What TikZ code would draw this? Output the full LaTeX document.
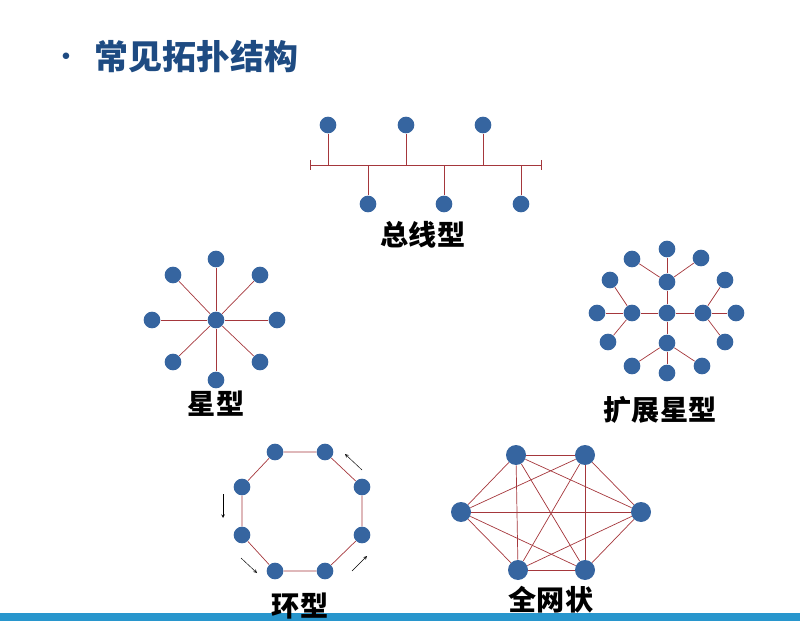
\documentclass[tikz,border=0pt]{standalone}
\usepackage{fontspec}
\newfontfamily\cjk{Noto Sans CJK SC}
\usetikzlibrary{arrows}
\definecolor{dotblue}{RGB}{54,101,160}
\definecolor{linkred}{RGB}{165,55,60}
\definecolor{titleblue}{RGB}{30,75,130}
\definecolor{barblue}{RGB}{40,150,205}
\begin{document}
\begin{tikzpicture}[
		x=0.03cm,y=-0.03cm,
		semithick,
		>=stealth,
		dot/.style={circle,fill=dotblue,inner sep=0pt,minimum size=0.5cm},
		bigdot/.style={dot,minimum size=0.6cm},
		link/.style={draw=linkred},
		lbl/.style={font=\cjk\bfseries\fontsize{24}{26}\selectfont}
		]
		\useasboundingbox (0,0) rectangle (800,621);
		\fill[barblue] (0,613) rectangle (800,621);
		\node[font=\cjk\bfseries\fontsize{29}{32}\selectfont,text=titleblue,anchor=west](title) at (90,57){常见拓扑结构};
		\node[text=titleblue,font=\Large](bullet) at (66,57){$\bullet$};
		
		% bus
		\coordinate (busl) at (310,165);
		\coordinate (busr) at (541,165);
		\draw[link] (busl) -- (busr);
		\draw[link] (310,160) -- (310,170) (541,160) -- (541,170);
		\node[dot](b1) at (328,125){};
		\node[dot](b2) at (406,125){};
		\node[dot](b3) at (483,125){};
		\node[dot](b4) at (368,204){};
		\node[dot](b5) at (444,204){};
		\node[dot](b6) at (521,204){};
		\draw[link] (b1) -- (328,165) (b2) -- (406,165) (b3) -- (483,165);
		\draw[link] (b4) -- (368,165) (b5) -- (444,165) (b6) -- (521,165);
		\node[lbl](buslbl) at (423,235){总线型};
		
		% star
		\node[dot](s0) at (216,320){};
		\foreach \n/\x/\y in {1/216/259,2/260/275,3/277/320,4/260/362,5/216/380,6/173/362,7/152/320,8/173/275}
		{\node[dot](s\n) at (\x,\y){}; \draw[link] (s0) -- (s\n);}
		\node[lbl](starlbl) at (216,404){星型};
		
		% extended star
		\node[dot](e0) at (667,313){};
		\node[dot](eu) at (667,282){};
		\node[dot](el) at (632,313){};
		\node[dot](er) at (703,313){};
		\node[dot](ed) at (667,343){};
		\foreach \h in {eu,el,er,ed} \draw[link] (e0) -- (\h);
		\foreach \h/\n/\x/\y in {eu/1/667/249,eu/2/632/259,eu/3/701/258,
			el/4/597/313,el/5/610/280,el/6/608/342,
			er/7/736/313,er/8/725/280,er/9/725/342,
			ed/10/632/366,ed/11/667/373,ed/12/702/366}
		{\node[dot](e\n) at (\x,\y){}; \draw[link] (\h) -- (e\n);}
		\node[lbl](extlbl) at (660,410){扩展星型};
		
		% ring
		\node[dot](r1) at (275,452){};
		\node[dot](r2) at (325,452){};
		\node[dot](r3) at (362,487){};
		\node[dot](r4) at (362,535){};
		\node[dot](r5) at (325,571){};
		\node[dot](r6) at (275,571){};
		\node[dot](r7) at (242,535){};
		\node[dot](r8) at (242,487){};
		\draw[link] (r1) -- (r2) -- (r3) -- (r4) -- (r5) -- (r6) -- (r7) -- (r8) -- (r1);
		\draw[->,thin] (223,494) -- (223,518);
		\draw[->,thin] (241,558) -- (257,573);
		\draw[->,thin] (352,571) -- (367,556);
		\draw[->,thin] (362,470) -- (345,454);
		\node[lbl](ringlbl) at (300,606){环型};
		
		% mesh
		\node[bigdot](m1) at (516,455){};
		\node[bigdot](m2) at (585,455){};
		\node[bigdot](m3) at (641,512){};
		\node[bigdot](m4) at (585,570){};
		\node[bigdot](m5) at (518,570){};
		\node[bigdot](m6) at (461,512){};
		\foreach \a/\b in {1/2,1/3,1/4,1/5,1/6,2/3,2/4,2/5,2/6,3/4,3/5,3/6,4/5,4/6,5/6}
		\draw[link] (m\a) -- (m\b);
		\node[lbl](meshlbl) at (551,600){全网状};
		
		\end{tikzpicture}
\end{document}
